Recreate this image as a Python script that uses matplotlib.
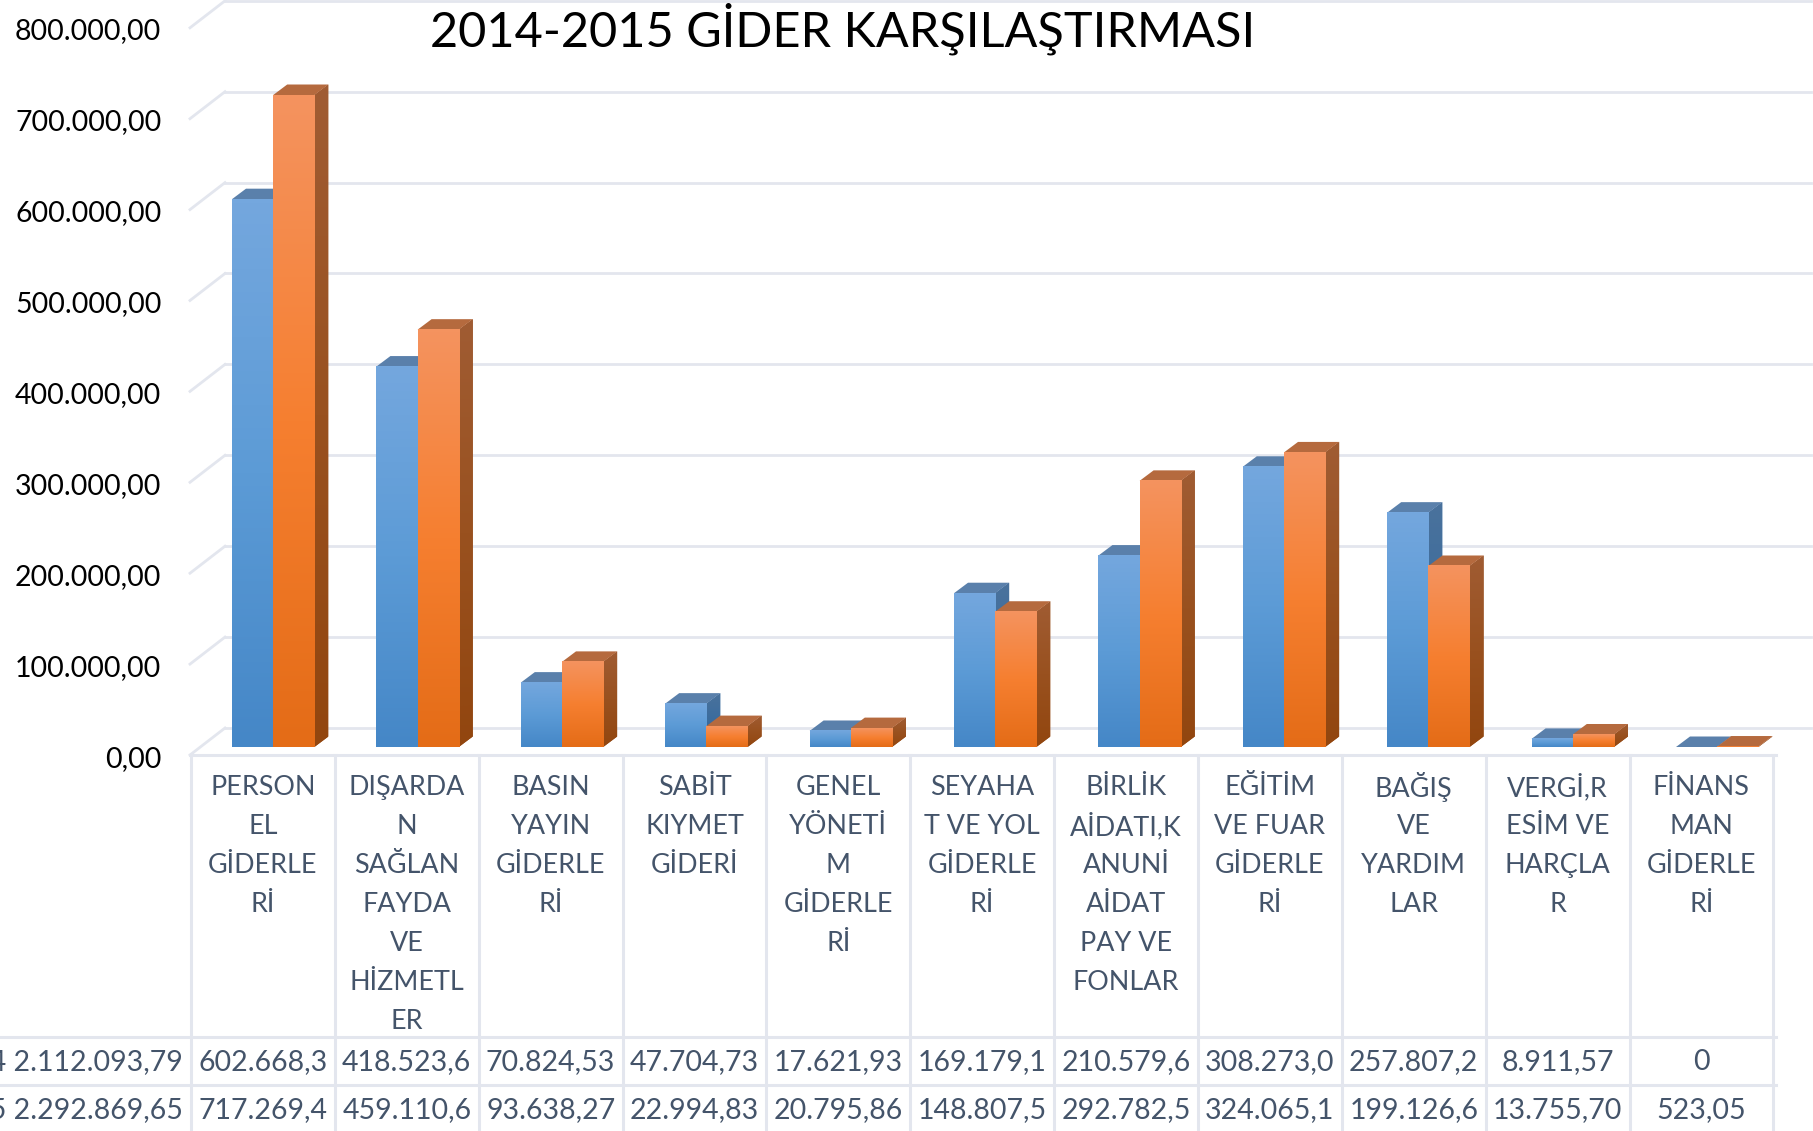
import numpy as np
import matplotlib
matplotlib.use("Agg")
import matplotlib.pyplot as plt
from matplotlib.colors import LinearSegmentedColormap
from matplotlib.patches import Polygon
from matplotlib.ticker import FuncFormatter
from matplotlib.transforms import Affine2D

plt.rcParams['font.family'] = ['Lato', 'DejaVu Sans']

title = "2014-2015 GİDER KARŞILAŞTIRMASI"
categories = ["PERSON\nEL\nGİDERLE\nRİ", "DIŞARDA\nN\nSAĞLAN\nFAYDA\nVE\nHİZMETL\nER",
              "BASIN\nYAYIN\nGİDERLE\nRİ", "SABİT\nKIYMET\nGİDERİ", "GENEL\nYÖNETİ\nM\nGİDERLE\nRİ",
              "SEYAHA\nT VE YOL\nGİDERLE\nRİ", "BİRLİK\nAİDATI,K\nANUNİ\nAİDAT\nPAY VE\nFONLAR",
              "EĞİTİM\nVE FUAR\nGİDERLE\nRİ", "BAĞIŞ\nVE\nYARDIM\nLAR", "VERGİ,R\nESİM VE\nHARÇLA\nR",
              "FİNANS\nMAN\nGİDERLE\nRİ"]
values_2014 = [602668.3, 418523.6, 70824.53, 47704.73, 17621.93, 169179.1, 210579.6, 308273.0, 257807.2, 8911.57, 0]
values_2015 = [717269.4, 459110.6, 93638.27, 22994.83, 20795.86, 148807.5, 292782.5, 324065.1, 199126.6, 13755.70, 523.05]
row_2014 = ["602.668,3", "418.523,6", "70.824,53", "47.704,73", "17.621,93", "169.179,1", "210.579,6", "308.273,0", "257.807,2", "8.911,57", "0"]
row_2015 = ["717.269,4", "459.110,6", "93.638,27", "22.994,83", "20.795,86", "148.807,5", "292.782,5", "324.065,1", "199.126,6", "13.755,70", "523,05"]
total_2014 = "2014 2.112.093,79"
total_2015 = "2015 2.292.869,65"
y_ticks = [0, 100000, 200000, 300000, 400000, 500000, 600000, 700000, 800000]

W, H = 1813, 1131
fig = plt.figure(figsize=(W / 100, H / 100), dpi=100, facecolor="white")

# plot axes: y=0 at px 755, 100k = 90.9 px; category i at px 232+144.4*i
PX_PER_VAL = 90.9 / 100000
CAT_W = 144.4
x_left, x_right = 191, 1775
ax = fig.add_axes([x_left / W, (H - 755) / H, (x_right - x_left) / W, 755 / H])
ax.set_xlim((x_left - 232) / CAT_W, (x_right - 232) / CAT_W)
ax.set_ylim(0, 755 / PX_PER_VAL)
ax.set_facecolor("none")
for s in ax.spines.values():
    s.set_visible(False)
ax.set_xticks([])
ax.set_yticks(y_ticks)
ax.yaxis.set_major_formatter(FuncFormatter(lambda v, p: f"{int(v):,}".replace(",", ".") + ",00"))
ax.tick_params(axis='y', length=0, pad=21.4, labelsize=20.5, labelcolor="black")
for lab in ax.get_yticklabels():
    lab.set_transform(lab.get_transform() + Affine2D().translate(0, -1.2))

GRID = "#E3E6EE"
wall_dx, wall_dy = 35 / CAT_W, 27 / PX_PER_VAL
x_wall = (190 - 232) / CAT_W
x_end = (1811 - 232) / CAT_W
for v in y_ticks:
    ax.plot([x_wall + wall_dx, x_end], [v + wall_dy] * 2, color=GRID, lw=2, clip_on=False, zorder=1)
    ax.plot([x_wall, x_wall + wall_dx], [v, v + wall_dy], color=GRID, lw=2, clip_on=False, zorder=1)

base = 8 / PX_PER_VAL
dep_x, dep_y = 14 / CAT_W, 10.5 / PX_PER_VAL
bw = 41.2 / CAT_W

def gradient(stops):
    return LinearSegmentedColormap.from_list("g", stops)

blue_front = gradient(["#74A7DE", "#5C9BD6", "#4587C7"])
orange_front = gradient(["#F4935F", "#F67F30", "#E46C17"])
blue_side = gradient(["#4A729C", "#3B6C9E", "#2F608F"])
orange_side = gradient(["#A05C33", "#99511F", "#92460F"])
blue_top, orange_top = "#5A80AB", "#B56A3E"
ramp = np.linspace(0, 1, 128).reshape(-1, 1)

z = 3
def draw(x0, v, front, side, top):
    global z
    y0, y1 = base, base + v
    xr = x0 + bw
    ax.add_patch(Polygon([(xr, y0), (xr + dep_x, y0 + dep_y), (xr + dep_x, y1 + dep_y), (xr, y1)],
                         facecolor=side(0.5), edgecolor="none", zorder=z))
    if v > 0:
        img = ax.imshow(ramp, cmap=side, extent=(xr, xr + dep_x, y0, y1 + dep_y), origin="upper",
                        aspect="auto", zorder=z, interpolation="bilinear")
        img.set_clip_path(ax.patches[-1])
    ax.add_patch(Polygon([(x0, y1), (xr, y1), (xr + dep_x, y1 + dep_y), (x0 + dep_x, y1 + dep_y)],
                         facecolor=top, edgecolor="none", zorder=z + 0.1))
    ax.bar(x0, v, width=bw, bottom=y0, align="edge", color=front(0.5), zorder=z + 0.2, linewidth=0)
    if v > 0:
        ax.imshow(ramp, cmap=front, extent=(x0, xr, y0, y1), origin="upper", aspect="auto",
                  zorder=z + 0.2, interpolation="bilinear")
    z += 1

for i, (a, b) in enumerate(zip(values_2014, values_2015)):
    draw(i, a, blue_front, blue_side, blue_top)
    draw(i + bw, b, orange_front, orange_side, orange_top)

ax.set_xlim((x_left - 232) / CAT_W, (x_right - 232) / CAT_W)
ax.set_ylim(0, 755 / PX_PER_VAL)

# table in pixel coordinates
tb = fig.add_axes([0, 0, 1, 1], facecolor="none")
tb.set_xlim(0, W)
tb.set_ylim(H, 0)
tb.axis("off")
COL_W = 143.85
TXT = "#44546A"
edges = [191 + COL_W * i for i in range(12)]
for e in edges:
    tb.plot([e, e], [755, H], color=GRID, lw=2.2, zorder=2)
tb.plot([190, 1776], [755, 755], color=GRID, lw=2.2, zorder=2)
for y in (1037, 1085):
    tb.plot([0, 1776], [y, y], color=GRID, lw=2.2, zorder=2)

FS_CAT = 19.4
FS = 20.5
for i in range(11):
    cx = (edges[i] + edges[i + 1]) / 2
    for k, line in enumerate(categories[i].split("\n")):
        tb.text(cx, 787.5 + 39 * k, line, ha="center", va="center", fontsize=FS_CAT, color=TXT)
    tb.text(cx, 1062, row_2014[i], ha="center", va="center", fontsize=FS, color=TXT)
    tb.text(cx, 1110, row_2015[i], ha="center", va="center", fontsize=FS, color=TXT)
tb.text(183, 1062, total_2014, ha="right", va="center", fontsize=FS, color=TXT)
tb.text(183, 1110, total_2015, ha="right", va="center", fontsize=FS, color=TXT)

tb.text(843, 29, title, ha="center", va="center", fontsize=35, color="black")

fig.savefig("out.png", dpi=100, facecolor="white")
